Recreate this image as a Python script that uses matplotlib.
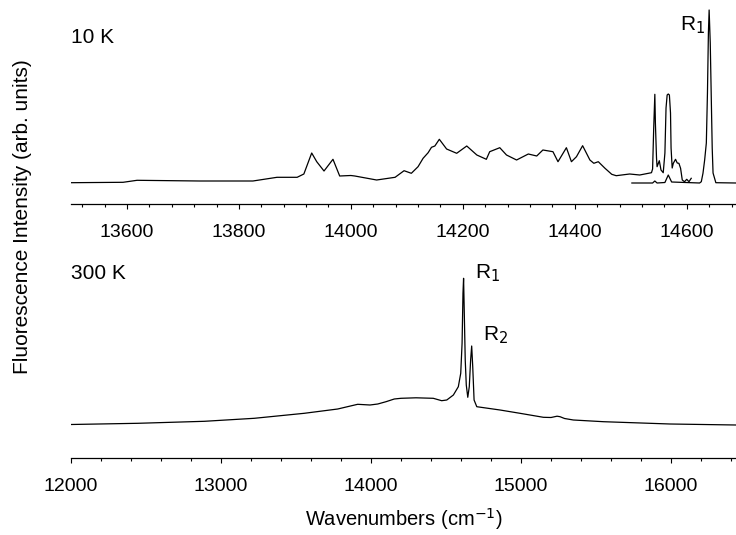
import matplotlib
matplotlib.use("Agg")
import matplotlib.pyplot as plt
from matplotlib.ticker import MultipleLocator

plt.rcParams['font.family'] = ['Liberation Sans', 'DejaVu Sans']

# ---- 10 K spectrum (broad vibronic band + R lines) ----
wn_10k_main = [13500, 13593, 13618, 13730, 13825, 13868, 13904, 13916, 13930, 13939, 13952,
               13968, 13980, 14000, 14007, 14046, 14079, 14095, 14108, 14120, 14129, 14138, 14144,
               14150, 14158, 14171, 14189, 14207, 14225, 14242, 14248, 14266, 14278, 14296,
               14317, 14332, 14343, 14361, 14370, 14385, 14394, 14403, 14414, 14427, 14434,
               14442, 14454, 14466, 14474, 14498, 14516, 14537, 14539, 14541, 14543, 14544,
               14546, 14547, 14551, 14554, 14558, 14561, 14563, 14565, 14567, 14569, 14571,
               14572, 14574, 14576, 14580, 14583, 14586, 14589, 14592, 14596, 14600, 14604,
               14608]
int_10k_main = [0.3, 0.7, 2.7, 2.0, 2.0, 5.7, 5.7, 9.0, 30.0, 21.3, 12.0,
                23.7, 7.0, 7.5, 7.0, 3.0, 5.7, 12.3, 9.7, 16.3, 24.7, 30.3, 35.7,
                37.0, 43.7, 34.0, 29.7, 37.0, 28.0, 23.7, 31.3, 35.3, 28.0, 23.0,
                29.0, 27.0, 33.0, 31.3, 21.3, 35.3, 21.3, 26.3, 37.3, 23.0, 19.7,
                21.3, 14.7, 8.7, 7.3, 9.0, 8.0, 10.3, 14.0, 55.0, 88.7, 60.0,
                25.0, 16.3, 22.3, 13.0, 10.3, 30.0, 75.0, 88.0, 89.0, 88.0, 70.0,
                35.0, 15.0, 19.7, 23.7, 20.0, 19.7, 14.7, 3.0, 1.3, 3.7, 1.3,
                4.7]

wn_10k_r = [14502, 14539, 14543, 14547, 14561, 14567, 14573, 14623, 14626, 14629, 14632,
            14635, 14637, 14638.7, 14640, 14642, 14644, 14645.5, 14647, 14652, 14688]
int_10k_r = [0.0, 0.0, 2.0, 0.0, 0.5, 8.0, 1.0, 0.0, 1.3, 9.7, 23.0,
             40.0, 90.0, 150.0, 173.0, 140.0, 80.0, 35.0, 10.0, 0.3, 0.0]

# ---- 300 K spectrum ----
wn_300k = [12000, 12445, 12889, 13222, 13555, 13778, 13911, 13993, 14045, 14100, 14155,
           14200, 14300, 14415, 14471, 14505, 14549, 14582, 14598, 14607, 14613, 14617, 14622,
           14628, 14635, 14645, 14655, 14664, 14671, 14678, 14687, 14705, 14860, 14993,
           15149, 15200, 15240, 15260, 15290, 15349, 15549, 15993, 16433]
int_300k = [0.5, 1.7, 3.7, 6.7, 11.7, 16.0, 20.7, 20.0, 21.0, 23.3, 26.0,
            26.7, 27.2, 26.7, 24.3, 25.0, 30.0, 38.3, 51.7, 81.7, 131.7, 146.7, 110.0,
            65.0, 40.0, 27.7, 38.3, 65.0, 79.0, 58.3, 25.0, 18.3, 15.0, 11.7,
            7.7, 7.5, 8.8, 8.3, 6.5, 5.0, 3.3, 1.0, 0.0]

fig = plt.figure(figsize=(7.36, 5.35), dpi=100)
W, H = 736, 535

def px_axes(left, top, right, bottom):
    return [left / W, (H - bottom) / H, (right - left) / W, (bottom - top) / H]

ax1 = fig.add_axes(px_axes(71, 5, 736, 204))
ax2 = fig.add_axes(px_axes(71, 250, 736, 457.7))

lw = 0.9
ax1.plot(wn_10k_main, int_10k_main, color='black', lw=lw)
ax1.plot(wn_10k_r, int_10k_r, color='black', lw=lw)
ax2.plot(wn_300k, int_300k, color='black', lw=lw)

ax1.set_xlim(13500, 14688)
ax1.set_ylim(-21, 178)
ax2.set_xlim(12000, 16433)
ax2.set_ylim(-32.7, 175)

for ax in (ax1, ax2):
    for s in ('left', 'right', 'top'):
        ax.spines[s].set_visible(False)
    ax.spines['bottom'].set_linewidth(0.9)
    ax.set_yticks([])
    ax.tick_params(axis='x', which='major', direction='out', length=3.6, width=0.8,
                   pad=11, labelsize=14)
    ax.tick_params(axis='x', which='minor', direction='out', length=2.2, width=0.8)

ax1.xaxis.set_major_locator(MultipleLocator(200))
ax1.xaxis.set_minor_locator(MultipleLocator(40))
ax2.xaxis.set_major_locator(MultipleLocator(1000))
ax2.xaxis.set_minor_locator(MultipleLocator(200))

ax1.text(0.0, 0.839, '10 K', transform=ax1.transAxes, fontsize=15, ha='left', va='center')
ax2.text(0.0, 0.889, '300 K', transform=ax2.transAxes, fontsize=15, ha='left', va='center')

ax1.text(14588, 158, r'R$_1$', fontsize=15, ha='left', va='center')
ax2.text(14693, 152, r'R$_1$', fontsize=15, ha='left', va='center')
ax2.text(14749, 90, r'R$_2$', fontsize=15, ha='left', va='center')

ax2.set_xlabel(r'Wavenumbers (cm$^{-1}$)', fontsize=14.5, labelpad=8)
fig.text(23 / W, (H - 217) / H, 'Fluorescence Intensity (arb. units)', rotation=90,
         fontsize=15, ha='center', va='center')

fig.savefig('out.png', dpi=100)
